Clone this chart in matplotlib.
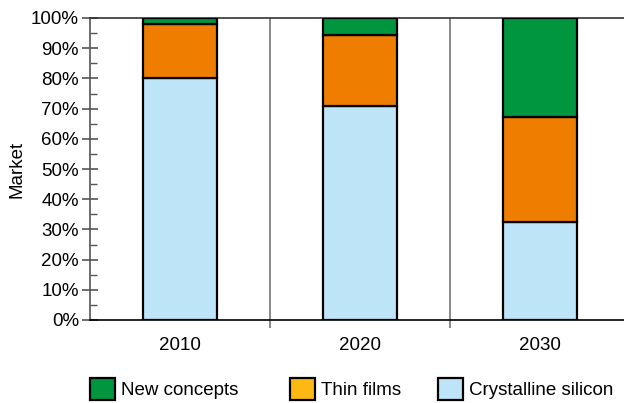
import matplotlib
matplotlib.use("Agg")
import matplotlib.pyplot as plt
from matplotlib.patches import Patch
from matplotlib.ticker import MultipleLocator, FuncFormatter

years = ["2010", "2020", "2030"]
crystalline = [80, 71, 32.5]
thin_films = [18, 23.5, 34.7]
new_concepts = [2, 5.5, 32.8]
legend_labels = ["New concepts", "Thin films", "Crystalline silicon"]

c_green = "#009640"
c_orange = "#EF7D00"
c_legend_orange = "#FDB813"
c_blue = "#BEE4F8"

plt.rcParams["font.family"] = ["Liberation Sans", "DejaVu Sans"]
fs = 13.5

fig = plt.figure(figsize=(6.24, 4.03), dpi=100)
ax = fig.add_axes([90/624, 1-320/403, 540/624, 302/403])

x = [i + 0.5 for i in range(len(years))]
w = 0.41
lw = 1.6
ax.bar(x, crystalline, w, color=c_blue, edgecolor="black", linewidth=lw, zorder=3)
ax.bar(x, thin_films, w, bottom=crystalline, color=c_orange, edgecolor="black", linewidth=lw, zorder=3)
b2 = [a + b for a, b in zip(crystalline, thin_films)]
ax.bar(x, new_concepts, w, bottom=b2, color=c_green, edgecolor="black", linewidth=lw, zorder=3)

ax.set_xlim(0, 3)
ax.set_ylim(0, 100)
ax.yaxis.set_major_locator(MultipleLocator(10))
ax.yaxis.set_minor_locator(MultipleLocator(5))
ax.yaxis.set_major_formatter(FuncFormatter(lambda v, p: f"{int(v)}%"))
ax.tick_params(axis="y", which="major", direction="inout", length=12, width=1.2, color="#555555", labelsize=fs, pad=2)
ax.tick_params(axis="y", which="minor", direction="in", length=5, width=1.0, color="#555555")

ax.set_xticks([1, 2])
ax.set_xticklabels([])
ax.set_xticks(x, minor=True)
ax.set_xticklabels(years, minor=True)
ax.tick_params(axis="x", which="major", direction="out", length=6, width=1.2, color="#777777")
ax.tick_params(axis="x", which="minor", length=0, labelsize=fs, pad=12)

for xb in [1, 2]:
    ax.axvline(xb, color="#808080", linewidth=1.3, zorder=1)

ax.spines["left"].set_color("#555555")
ax.spines["left"].set_linewidth(1.2)
ax.spines["bottom"].set_color("black")
ax.spines["bottom"].set_linewidth(1.2)
ax.spines["top"].set_color("#333333")
ax.spines["top"].set_linewidth(1.2)
ax.spines["right"].set_visible(False)

ax.set_ylabel("Market", fontsize=fs, labelpad=4)

legend_colors = [c_green, c_legend_orange, c_blue]
legend_x = [90, 290, 438]
for lab, col, lx in zip(legend_labels, legend_colors, legend_x):
    h = Patch(facecolor=col, edgecolor="black", linewidth=1.6, label=lab)
    fig.legend(handles=[h], loc="center left", bbox_to_anchor=(lx/624, 1-389/403),
               frameon=False, fontsize=fs, handlelength=1.35, handleheight=1.35,
               handletextpad=0.3, borderpad=0, borderaxespad=0)

fig.savefig("out.png", dpi=100)
